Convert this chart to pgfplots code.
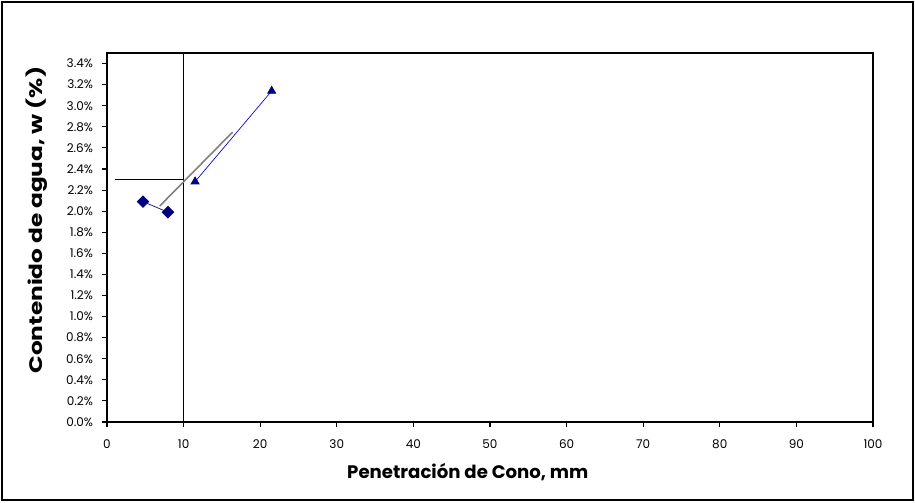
\documentclass[border=0pt]{standalone}
\usepackage{pgfplots}
\pgfplotsset{compat=1.18}
\usepackage{graphicx}
\usepackage{fontspec}
\setmainfont{Poppins}
\definecolor{navy}{RGB}{0,0,128}
\begin{document}
\begin{tikzpicture}
\path (-80.25pt,-60.75pt) rectangle (606pt,316.5pt);
\draw[black, line width=1.3pt] (-78.75pt,-58.5pt) rectangle (604.5pt,315pt);
\begin{axis}[
  at={(0,0)}, anchor=south west,
  scale only axis, width=574.5pt, height=276.75pt,
  xmin=0, xmax=100, ymin=0, ymax=3.5,
  xtick={0,10,...,100},
  ytick={0,0.2,...,3.41},
  tick align=outside, major tick length=4pt,
  xtick pos=bottom, ytick pos=left,
  tick style={black, line width=0.8pt},
  axis line style={black, line width=0.9pt},
  /pgf/number format/assume math mode=true,
  yticklabel={\pgfmathprintnumber[fixed,fixed zerofill,precision=1]{\tick}\%},
  xticklabel style={font=\fontsize{9}{10}\selectfont, yshift=-6pt},
  yticklabel style={font=\fontsize{9}{10}\selectfont, xshift=-3pt},
  xlabel={Penetración de Cono, mm},
  ylabel={\scalebox{1.28}[1]{Contenido de agua, w (\%)}},
  xlabel style={font=\bfseries\fontsize{13.6}{15}\selectfont, at={(axis description cs:0.471,-0.1355)}, anchor=center},
  ylabel style={font=\bfseries\fontsize{13.6}{15}\selectfont, at={(axis description cs:-0.0914,0.547)}, anchor=center, rotate=0},
  clip=false,
]
\addplot[black, line width=0.7pt, forget plot] coordinates {(10,0) (10,3.5)};
\addplot[black, line width=0.7pt, forget plot] coordinates {(1,2.30) (10,2.30)};
\addplot[gray, line width=1.2pt, forget plot] coordinates {(6.9,2.05) (16.4,2.75)};
\addplot[navy, line width=0.5pt, mark=square*, mark size=3.1pt, mark options={rotate=45, fill=navy, draw=navy}] coordinates {(4.7,2.09) (7.96,1.99)};
\addplot[blue!70!navy, line width=0.5pt, mark=triangle*, mark size=3.5pt, mark options={fill=navy, draw=navy}] coordinates {(11.5,2.28) (21.5,3.14)};
\end{axis}
\end{tikzpicture}
\end{document}
